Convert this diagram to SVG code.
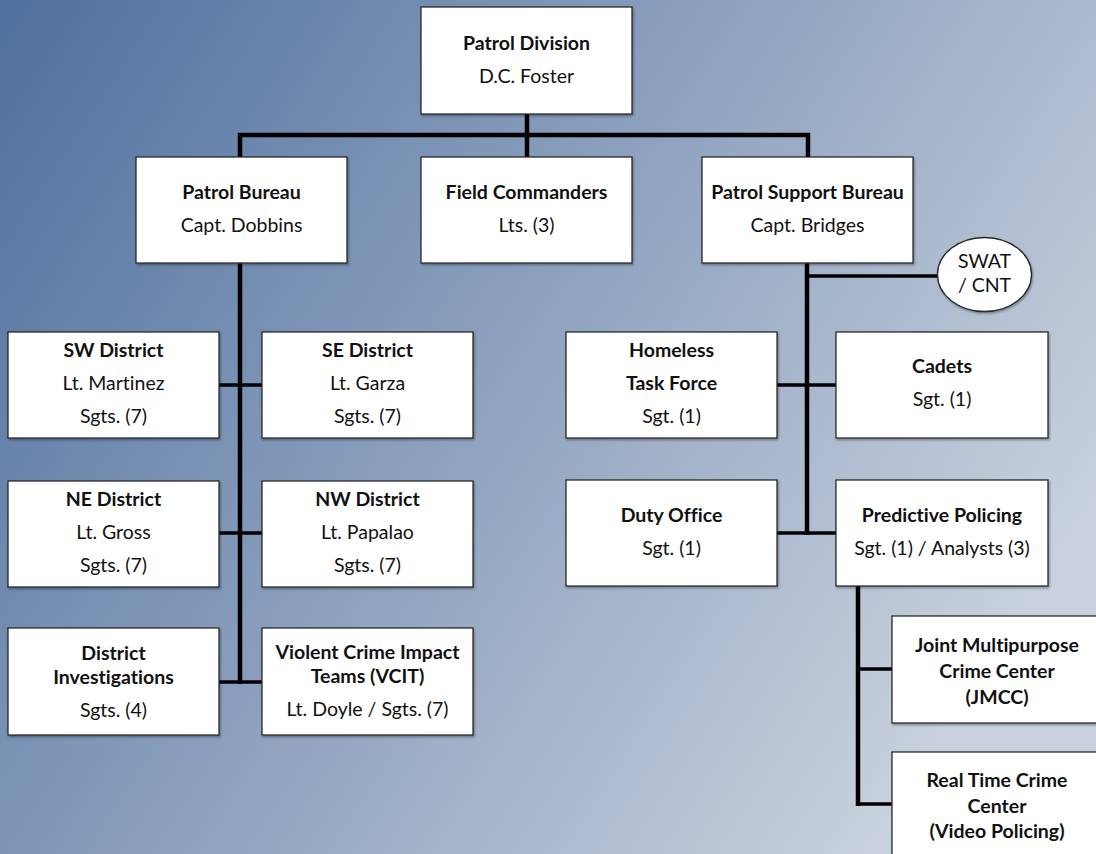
<svg xmlns="http://www.w3.org/2000/svg" width="1096" height="854" viewBox="0 0 1096 854">
<defs>
<linearGradient id="bg" gradientUnits="userSpaceOnUse" x1="0" y1="0" x2="1000" y2="650">
<stop offset="0" stop-color="#4f6f9e"/>
<stop offset="1" stop-color="#c8d1dd"/>
</linearGradient>
<filter id="sh" x="-5%" y="-5%" width="112%" height="115%">
<feDropShadow dx="1" dy="1.5" stdDeviation="1.2" flood-color="#000" flood-opacity="0.35"/>
</filter>
</defs>
<style>
.box{fill:#fff;stroke:#2a2a2a;stroke-width:1.3;filter:url(#sh)}
.t{font-family:Lato,"Open Sans","Liberation Sans",sans-serif;font-size:19.5px;fill:#111;text-anchor:middle;font-variant-ligatures:none}
.b{font-weight:bold}
.c{fill:none;stroke:#000;stroke-width:4.5}
.c3{fill:none;stroke:#000;stroke-width:3.5}
</style>
<rect x="0" y="0" width="1096" height="854" fill="url(#bg)"/>
<g id="connectors">
<path class="c" d="M527 114 V157"/>
<path class="c" d="M240 157 V135 H808 V157"/>
<path class="c" d="M240 263 V684"/>
<path class="c3" d="M219 385 H262"/>
<path class="c3" d="M219 533 H262"/>
<path class="c3" d="M219 682 H262"/>
<path class="c" d="M807 263 V535"/>
<path class="c3" d="M807 276 H938"/>
<path class="c3" d="M777 385 H836"/>
<path class="c3" d="M777 533 H836"/>
<path class="c" d="M858 586 V806"/>
<path class="c3" d="M858 669 H892"/>
<path class="c3" d="M858 804 H892"/>
</g>
<g id="patrol-division"><rect class="box" x="421" y="7" width="211" height="107"/><text class="t b" x="526.5" y="50">Patrol Division</text><text class="t" x="526.5" y="83">D.C. Foster</text></g>
<g id="patrol-bureau"><rect class="box" x="136" y="157" width="211" height="106"/><text class="t b" x="241.5" y="199">Patrol Bureau</text><text class="t" x="241.5" y="232">Capt. Dobbins</text></g>
<g id="field-commanders"><rect class="box" x="421" y="157" width="211" height="106"/><text class="t b" x="526.5" y="199">Field Commanders</text><text class="t" x="526.5" y="232">Lts. (3)</text></g>
<g id="patrol-support-bureau"><rect class="box" x="702" y="157" width="211" height="106"/><text class="t b" x="807.5" y="199">Patrol Support Bureau</text><text class="t" x="807.5" y="232">Capt. Bridges</text></g>
<g id="swat-cnt"><ellipse class="box" cx="984.5" cy="274.5" rx="47" ry="37"/><text class="t" x="984.5" y="268">SWAT</text><text class="t" x="984.5" y="292">/ CNT</text></g>
<g id="sw-district"><rect class="box" x="8" y="332" width="211" height="106"/><text class="t b" x="113.5" y="357">SW District</text><text class="t" x="113.5" y="390">Lt. Martinez</text><text class="t" x="113.5" y="423">Sgts. (7)</text></g>
<g id="se-district"><rect class="box" x="262" y="332" width="211" height="106"/><text class="t b" x="367.5" y="357">SE District</text><text class="t" x="367.5" y="390">Lt. Garza</text><text class="t" x="367.5" y="423">Sgts. (7)</text></g>
<g id="ne-district"><rect class="box" x="8" y="481" width="211" height="106"/><text class="t b" x="113.5" y="506">NE District</text><text class="t" x="113.5" y="539">Lt. Gross</text><text class="t" x="113.5" y="572">Sgts. (7)</text></g>
<g id="nw-district"><rect class="box" x="262" y="481" width="211" height="106"/><text class="t b" x="367.5" y="506">NW District</text><text class="t" x="367.5" y="539">Lt. Papalao</text><text class="t" x="367.5" y="572">Sgts. (7)</text></g>
<g id="district-investigations"><rect class="box" x="8" y="628" width="211" height="107"/><text class="t b" x="113.5" y="660">District</text><text class="t b" x="113.5" y="684">Investigations</text><text class="t" x="113.5" y="717">Sgts. (4)</text></g>
<g id="vcit"><rect class="box" x="262" y="628" width="211" height="107"/><text class="t b" x="367.5" y="659">Violent Crime Impact</text><text class="t b" x="367.5" y="683">Teams (VCIT)</text><text class="t" x="367.5" y="716">Lt. Doyle / Sgts. (7)</text></g>
<g id="homeless-task-force"><rect class="box" x="566" y="332" width="211" height="106"/><text class="t b" x="671.5" y="357">Homeless</text><text class="t b" x="671.5" y="390">Task Force</text><text class="t" x="671.5" y="423">Sgt. (1)</text></g>
<g id="cadets"><rect class="box" x="836" y="332" width="212" height="106"/><text class="t b" x="942" y="373">Cadets</text><text class="t" x="942" y="406">Sgt. (1)</text></g>
<g id="duty-office"><rect class="box" x="566" y="480" width="211" height="106"/><text class="t b" x="671.5" y="522">Duty Office</text><text class="t" x="671.5" y="555">Sgt. (1)</text></g>
<g id="predictive-policing"><rect class="box" x="836" y="480" width="212" height="106"/><text class="t b" x="942" y="522">Predictive Policing</text><text class="t" x="942" y="555">Sgt. (1) / Analysts (3)</text></g>
<g id="jmcc"><rect class="box" x="892" y="616" width="211" height="107"/><text class="t b" x="997" y="652">Joint Multipurpose</text><text class="t b" x="997" y="678">Crime Center</text><text class="t b" x="997" y="704">(JMCC)</text></g>
<g id="rtcc"><rect class="box" x="892" y="752" width="211" height="112"/><text class="t b" x="997" y="787">Real Time Crime</text><text class="t b" x="997" y="813">Center</text><text class="t b" x="997" y="838">(Video Policing)</text></g>
</svg>
